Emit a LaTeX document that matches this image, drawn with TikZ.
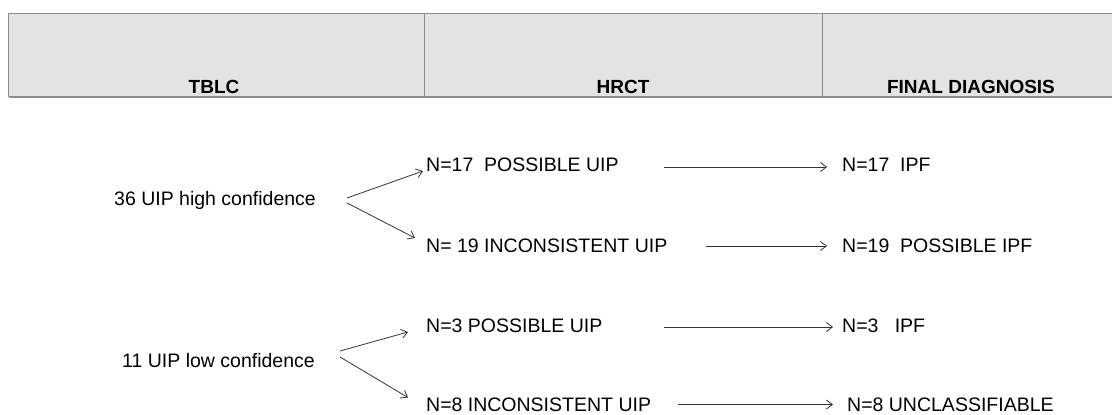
\documentclass[tikz,border=0pt]{standalone}
\usepackage{fontspec}
\setmainfont{Liberation Sans}
\usetikzlibrary{arrows.meta}
\definecolor{hdrfill}{HTML}{E3E3E3}
\definecolor{hdrline}{HTML}{8C8C8C}
\definecolor{arrline}{HTML}{333333}
\begin{document}
\begin{tikzpicture}[x=1pt,y=-1pt,
  txt/.style={anchor=base west,inner sep=0pt,font=\fontsize{19.5}{23}\selectfont},
  hdr/.style={anchor=base,inner sep=0pt,font=\fontsize{19}{23}\selectfont\bfseries},
  arr/.style={draw=arrline,line width=0.8pt,-{Straight Barb[length=6pt,width=9pt]}}]
\useasboundingbox (0,0) rectangle (1112,415);
% header table
\fill[hdrfill] (8.6,13) rectangle (1112,97);
\draw[hdrline,line width=0.8pt] (1112,13) -- (8.6,13) -- (8.6,97);
\draw[hdrline,line width=1.8pt] (8.6,97) -- (1112,97);
\draw[hdrline,line width=0.8pt] (424,13) -- (424,97);
\draw[hdrline,line width=0.8pt] (822.5,13) -- (822.5,97);
\node[hdr] (h1) at (214,93) {TBLC};
\node[hdr] (h2) at (623,93) {HRCT};
\node[hdr] (h3) at (971,93) {FINAL DIAGNOSIS};
% left labels
\node[txt] (hc) at (114,205) {36 UIP high confidence};
\node[txt] (lc) at (122,367) {11 UIP low confidence};
% HRCT column
\node[txt] (p17) at (426,171) {N=17\ \ POSSIBLE UIP};
\node[txt] (i19) at (426,252) {N= 19 INCONSISTENT UIP};
\node[txt] (p3)  at (426,332) {N=3 POSSIBLE UIP};
\node[txt] (i8)  at (426,411.5) {N=8 INCONSISTENT UIP};
% final diagnosis column
\node[txt] (f17) at (842,171) {N=17\ \ IPF};
\node[txt] (f19) at (842,252) {N=19\ \ POSSIBLE IPF};
\node[txt] (f3)  at (842,332) {N=3\ \ \ IPF};
\node[txt] (f8)  at (847,411.5) {N=8 UNCLASSIFIABLE};
% branching arrows
\draw[arr] ([xshift=31pt,yshift=7pt]hc.base east) -- ([xshift=-3pt,yshift=0pt]p17.base west);
\draw[arr] ([xshift=31pt,yshift=2pt]hc.base east) -- ([xshift=-11pt,yshift=14pt]i19.base west);
\draw[arr] ([xshift=25pt,yshift=16pt]lc.base east) -- ([xshift=-18pt,yshift=0pt]p3.base west);
\draw[arr] ([xshift=25pt,yshift=10pt]lc.base east) -- ([xshift=-18pt,yshift=14pt]i8.base west);
% horizontal arrows
\draw[arr] ([xshift=45pt,yshift=4pt]p17.base east) -- ([xshift=-15pt,yshift=4pt]f17.base west);
\draw[arr] ([xshift=39pt,yshift=6pt]i19.base east) -- ([xshift=-15pt,yshift=6pt]f19.base west);
\draw[arr] ([xshift=61pt,yshift=5pt]p3.base east) -- ([xshift=-9pt,yshift=5pt]f3.base west);
\draw[arr] ([xshift=27pt,yshift=7pt]i8.base east) -- ([xshift=-14pt,yshift=7pt]f8.base west);
\end{tikzpicture}
\end{document}
